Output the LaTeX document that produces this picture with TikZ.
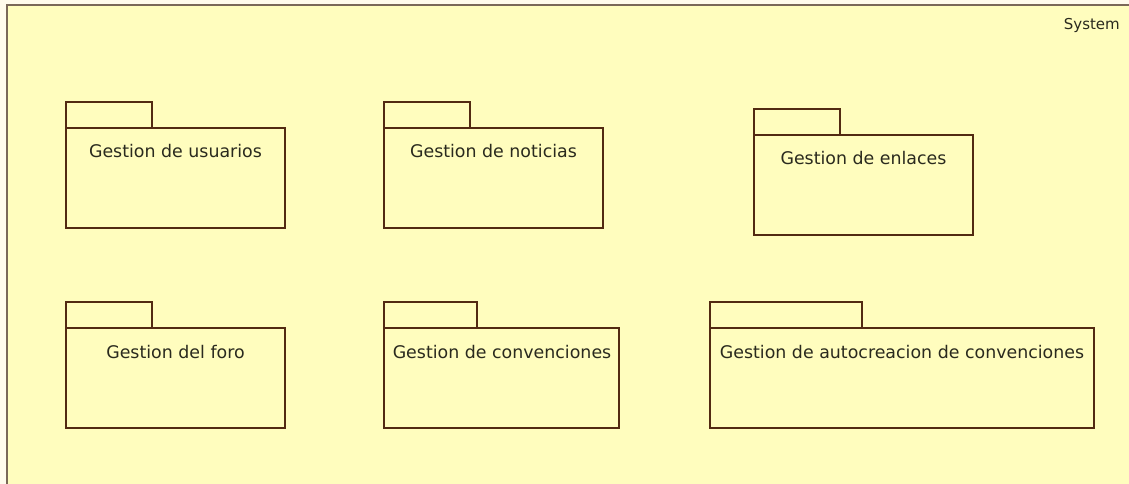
\documentclass[tikz,border=0pt]{standalone}
\usepackage{fontspec}
\setmainfont{DejaVu Sans}
\definecolor{bgyellow}{RGB}{255,253,190}
\definecolor{outercol}{RGB}{255,251,236}
\definecolor{framecol}{RGB}{122,104,88}
\definecolor{pkcol}{RGB}{82,42,18}
\definecolor{txtcol}{RGB}{42,42,30}
\begin{document}
\begin{tikzpicture}[x=1pt,y=-1pt,
  pkgtab/.style={draw=pkcol, line width=1.5pt, fill=bgyellow, inner sep=0pt, minimum height=26pt},
  pkgbody/.style={draw=pkcol, line width=1.5pt, fill=bgyellow, inner sep=0pt, minimum height=100pt},
  pkglabel/.style={text=txtcol, font=\fontsize{17.4}{20}\selectfont, inner sep=0pt},
  syslabel/.style={text=txtcol, font=\fontsize{15}{18}\selectfont, inner sep=0pt}]
\useasboundingbox (0,0) rectangle (1129,484);
\fill[outercol] (0,0) rectangle (1129,484);
\fill[bgyellow] (6.5,5.5) rectangle (1129,484);
\draw[framecol, line width=2pt] (6.5,484) -- (6.5,5.5) -- (1129,5.5);
\node[syslabel, anchor=east] (sys) at (1120,25) {System};

% row 1
\node[pkgtab, minimum width=86pt] (t1) at (109,115) {};
\node[pkgbody, minimum width=219pt] (p1) at (175.5,178) {};
\node[pkglabel] (l1) at (175.5,151) {Gestion de usuarios};

\node[pkgtab, minimum width=86pt] (t2) at (427,115) {};
\node[pkgbody, minimum width=219pt] (p2) at (493.5,178) {};
\node[pkglabel] (l2) at (493.5,151) {Gestion de noticias};

\node[pkgtab, minimum width=86pt] (t3) at (797,122) {};
\node[pkgbody, minimum width=219pt] (p3) at (863.5,185) {};
\node[pkglabel] (l3) at (863.5,158) {Gestion de enlaces};

% row 2
\node[pkgtab, minimum width=86pt] (t4) at (109,315) {};
\node[pkgbody, minimum width=219pt] (p4) at (175.5,378) {};
\node[pkglabel] (l4) at (175.5,352) {Gestion del foro};

\node[pkgtab, minimum width=93pt] (t5) at (430.5,315) {};
\node[pkgbody, minimum width=235pt] (p5) at (501.5,378) {};
\node[pkglabel] (l5) at (502,352) {Gestion de convenciones};

\node[pkgtab, minimum width=152pt] (t6) at (786,315) {};
\node[pkgbody, minimum width=384pt] (p6) at (902,378) {};
\node[pkglabel] (l6) at (902,352) {Gestion de autocreacion de convenciones};
\end{tikzpicture}
\end{document}
